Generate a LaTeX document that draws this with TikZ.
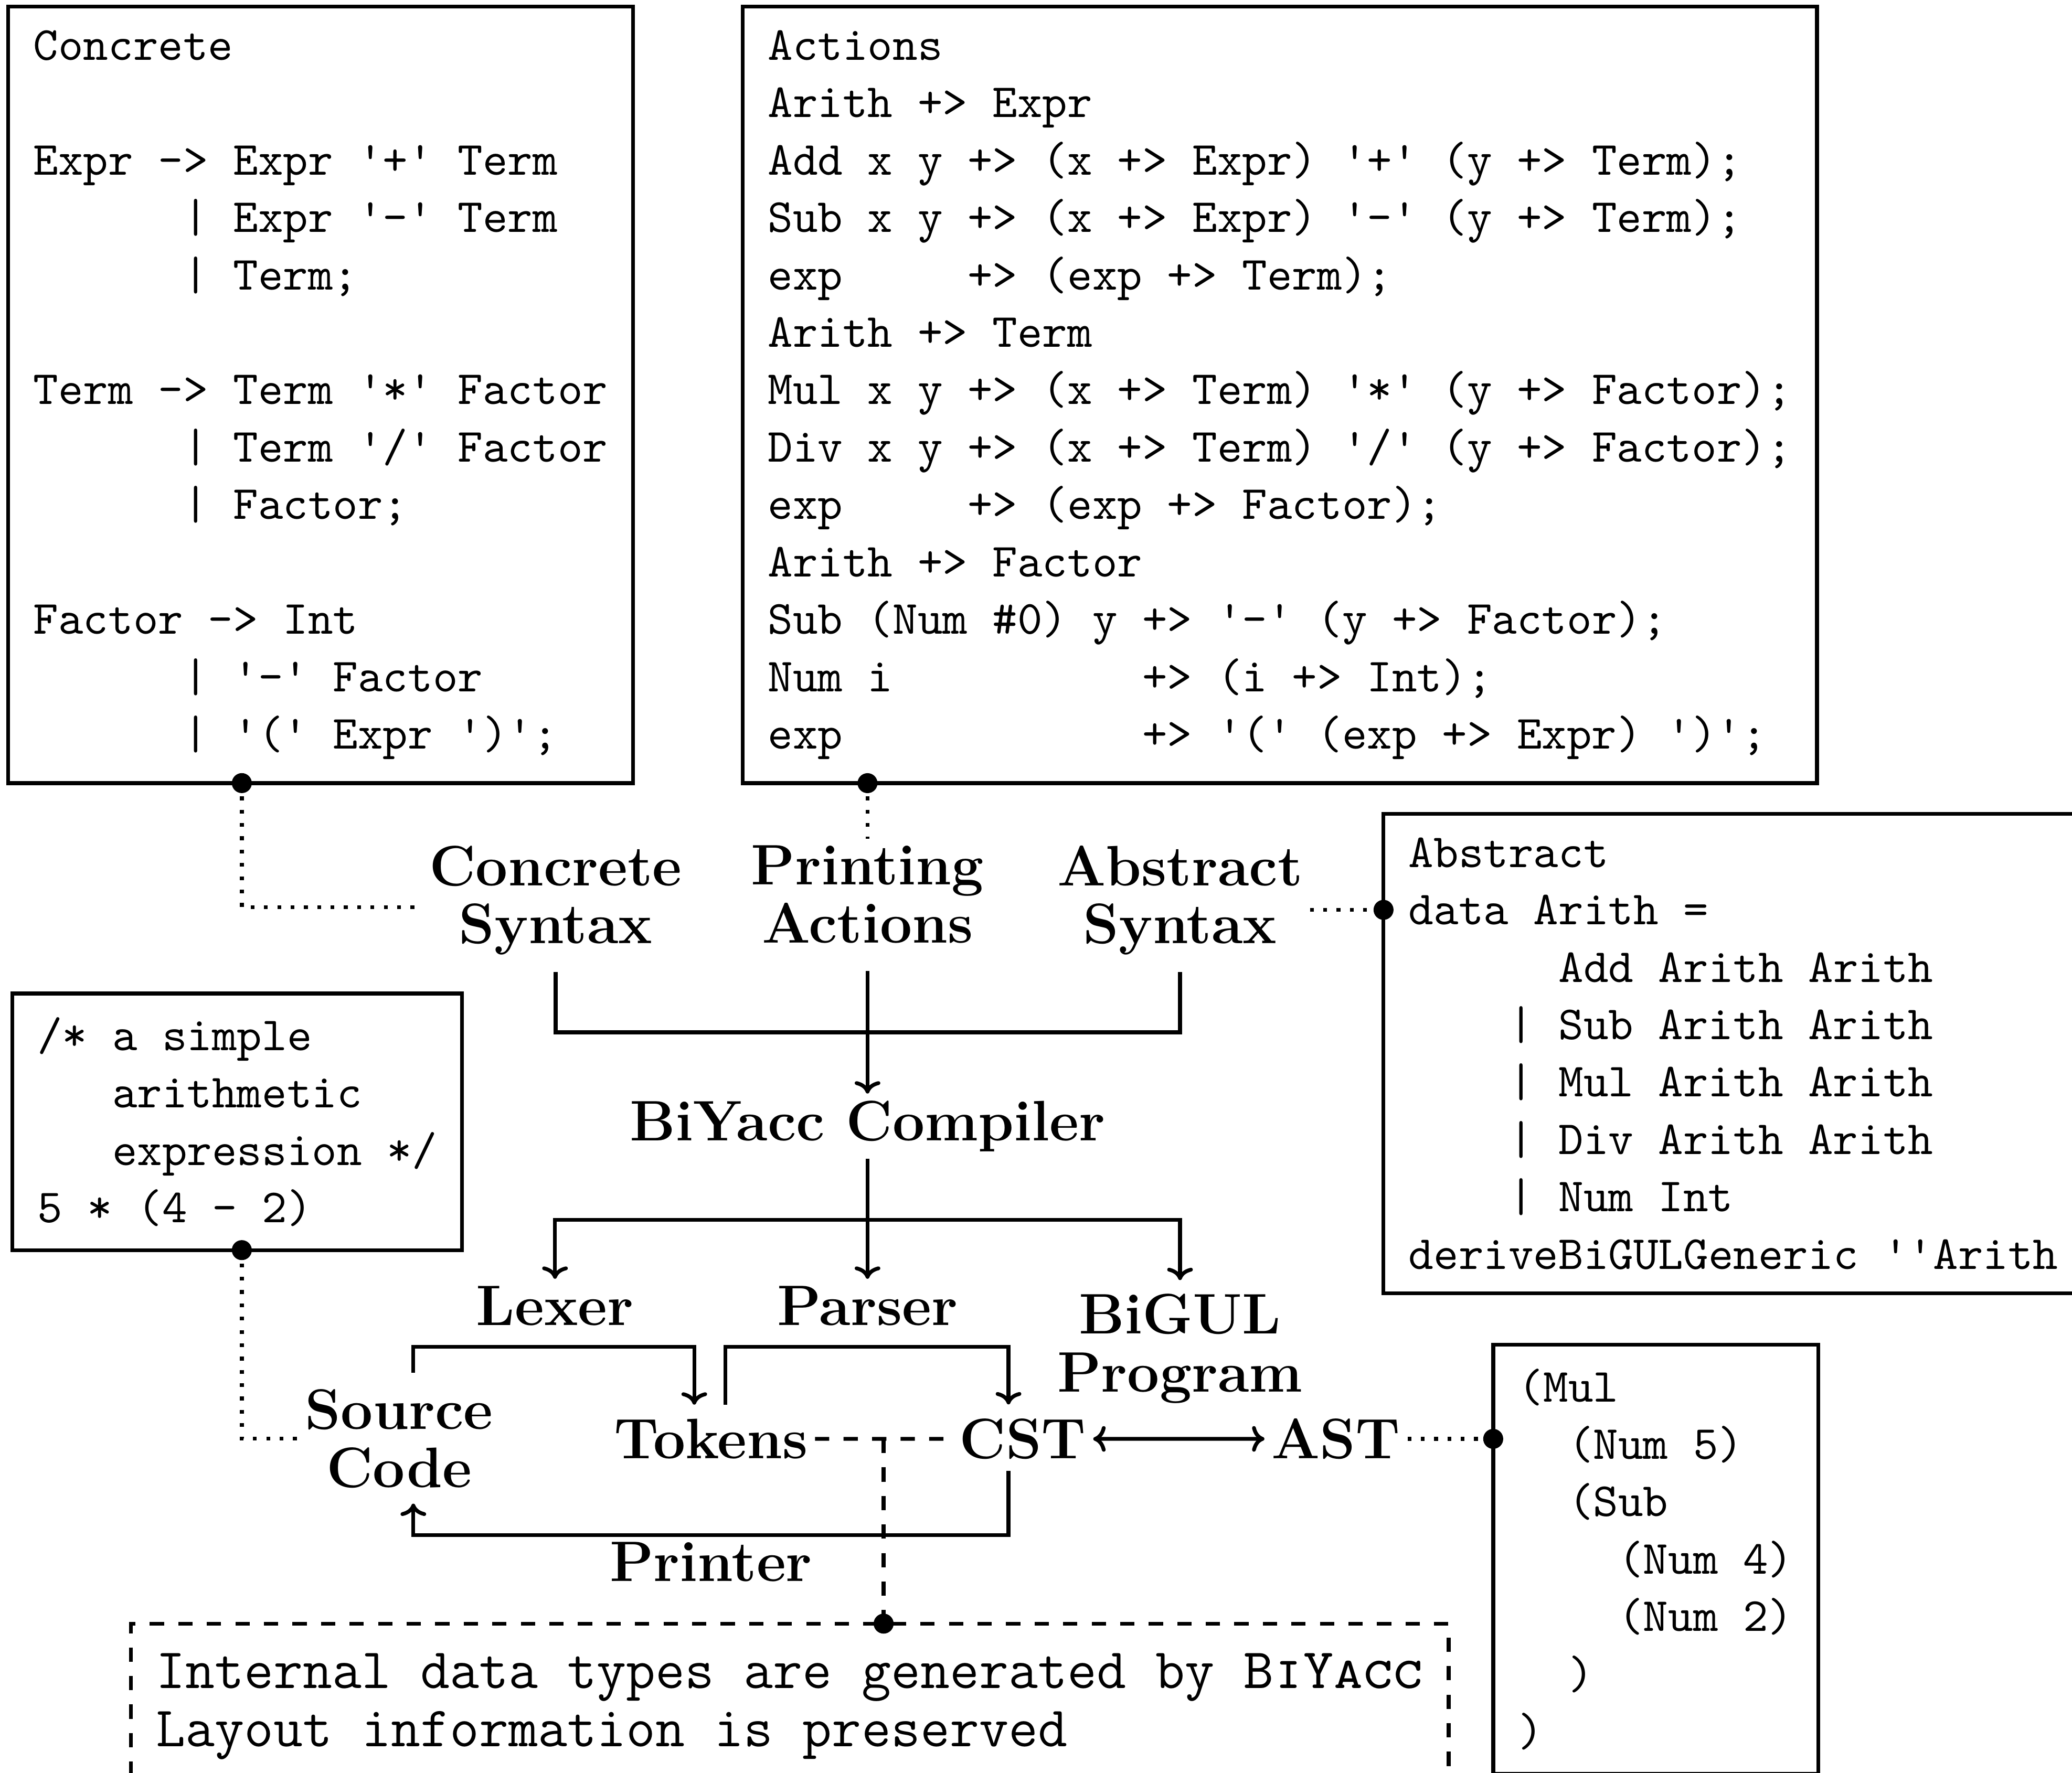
\documentclass[tikz,border=0pt]{standalone}
\usetikzlibrary{calc,arrows.meta}
\begin{document}
\begin{tikzpicture}
		[x=.2778pt,y=-.2778pt,
		>={Computer Modern Rightarrow[length=2.6pt,width=5.4pt]},
		link/.style={line width=.8pt},
		arr/.style={link,->},
		dotline/.style={link,dotted},
		dashline/.style={link,dashed},
		code/.style={draw,line width=.8pt,anchor=north west,align=left,
			inner xsep=5.3pt,inner ysep=5pt,outer sep=0pt,
			font=\fontsize{10}{12.07}\selectfont\ttfamily},
		lbl/.style={align=center,inner sep=1.5pt,outer sep=0pt,
			font=\fontsize{12}{12.2}\selectfont\bfseries}]
		\useasboundingbox (0,0) rectangle (1568,1342);
		\coordinate (guide) at (183,0);
		\coordinate (merge) at (656.5,781.4);
		\coordinate (fork) at (656.5,923.3);

		\node[code] (concrete) at (6.2,5) {Concrete\\
			~\\
			Expr -> Expr '+' Term\\
			~~~~~~| Expr '-' Term\\
			~~~~~~| Term;\\
			~\\
			Term -> Term '*' Factor\\
			~~~~~~| Term '/' Factor\\
			~~~~~~| Factor;\\
			~\\
			Factor -> Int\\
			~~~~~~| '-' Factor\\
			~~~~~~| '(' Expr ')';};
		\node[code] (actions) at (562,5) {Actions\\
			Arith +> Expr\\
			Add x y +> (x +> Expr) '+' (y +> Term);\\
			Sub x y +> (x +> Expr) '-' (y +> Term);\\
			exp~~~~~+> (exp +> Term);\\
			Arith +> Term\\
			Mul x y +> (x +> Term) '*' (y +> Factor);\\
			Div x y +> (x +> Term) '/' (y +> Factor);\\
			exp~~~~~+> (exp +> Factor);\\
			Arith +> Factor\\
			Sub (Num \#0) y +> '-' (y +> Factor);\\
			Num i~~~~~~~~~~+> (i +> Int);\\
			exp~~~~~~~~~~~~+> '(' (exp +> Expr) ')';};
		\node[code] (abstract) at (1047,616) {Abstract\\
			data Arith =\\
			~~~~~~Add Arith Arith\\
			~~~~| Sub Arith Arith\\
			~~~~| Mul Arith Arith\\
			~~~~| Div Arith Arith\\
			~~~~| Num Int\\
			deriveBiGULGeneric '{}'Arith};
		\node[code] (srcbox) at (9.2,752) {/* a simple\\
			~~~arithmetic\\
			~~~expression */\\
			5 * (4 - 2)};
		\node[code] (astbox) at (1130,1018) {(Mul\\
			~~(Num 5)\\
			~~(Sub\\
			~~~~(Num 4)\\
			~~~~(Num 2)\\
			~~)\\
			)};
		\node[code,dashed,inner ysep=6.3pt,font=\fontsize{12}{12.2}\selectfont\ttfamily] (note) at (99,1229)
			{Internal data types are generated by \textsc{BiYacc}\\
			Layout information is preserved};

		\node[lbl,anchor=north] (cs) at (420.5,634.7) {Concrete\\Syntax};
		\node[lbl,anchor=north] (pa) at (656.5,634.7) {Printing\\Actions};
		\node[lbl,anchor=north] (as) at (893,634.7) {Abstract\\Syntax};
		\node[lbl,anchor=base] (compiler) at (656.5,863.3) {BiYacc Compiler};
		\node[lbl,anchor=base] (lexer) at (420,1003) {Lexer};
		\node[lbl,anchor=base] (parser) at (656.5,1003) {Parser};
		\node[lbl,anchor=north] (bigul) at (893,974) {BiGUL\\Program};
		\node[lbl] (src) at (302,1089) {Source\\Code};
		\node[lbl,anchor=base] (tokens) at (538,1104) {Tokens};
		\node[lbl,anchor=base] (cst) at (774,1104) {CST};
		\node[lbl,anchor=base] (ast) at (1011,1104) {AST};
		\node[lbl,anchor=base] (printer) at (538,1197) {Printer};

		\draw[link] ([yshift=-2.1pt]cs.south) |- (merge) -| ([yshift=-2.1pt]as.south);
		\draw[arr] ([yshift=-4.3pt]pa.south) -- (compiler.north);
		\draw[link] (compiler.south) -- (fork);
		\draw[arr] (fork) -| (lexer.north);
		\draw[arr] (fork) -- (parser.north);
		\draw[arr,shorten >=1.4pt] (fork) -| (bigul.north);
		\draw[arr] ([xshift=3pt,yshift=2pt]src.north) |- ([yshift=-3pt]lexer.south) -| ([xshift=-3.5pt,yshift=1.5pt]tokens.north);
		\draw[arr] ([xshift=3pt,yshift=1.5pt]tokens.north) |- ([yshift=-3pt]parser.south) -| ([xshift=-3pt,yshift=1.5pt]cst.north);
		\draw[arr] ([xshift=-3pt,yshift=-1pt]cst.south) |- (printer.north) -| ([xshift=3pt,yshift=-1.8pt]src.south);
		\draw[arr,<->] (cst) -- (ast);

		\coordinate (mid) at ($(tokens.east)!.5!(cst.west)$);
		\draw[dashline] (tokens) -- (cst);
		\draw[dashline] (mid) -- (mid |- note.north);

		\draw[dotline] (concrete.south -| guide) |- ([yshift=-1.5pt]cs.west);
		\draw[dotline] (actions.south -| pa.north) -- (pa.north);
		\draw[dotline] ([yshift=-2pt]as.east) -- ([yshift=-2pt]as.east -| abstract.west);
		\draw[dotline] (srcbox.south -| guide) |- (src.west);
		\draw[dotline] (ast.east) -- (ast.east -| astbox.west);
		\fill (concrete.south -| guide) circle (2.1pt)
			(actions.south -| pa.north) circle (2.1pt)
			([yshift=-2pt]as.east -| abstract.west) circle (2.1pt)
			(srcbox.south -| guide) circle (2.1pt)
			(ast.east -| astbox.west) circle (2.1pt)
			(mid |- note.north) circle (2.1pt);
\end{tikzpicture}
\end{document}
